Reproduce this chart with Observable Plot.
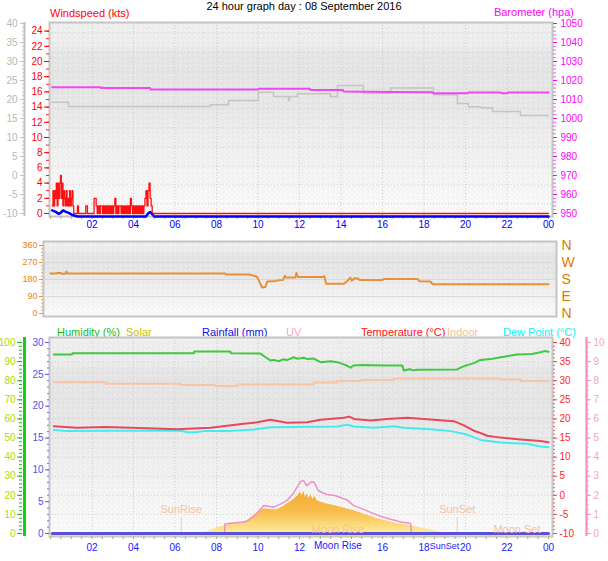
<!DOCTYPE html>
<html><head><meta charset="utf-8">
<script src="https://cdn.jsdelivr.net/npm/d3@7"></script>
<script src="https://cdn.jsdelivr.net/npm/@observablehq/plot@0.6"></script>
<style>
body{margin:0;background:#fff;}
#chart{position:relative;width:608px;height:561px;overflow:hidden;font-family:"Liberation Sans",Arial,sans-serif;background:#fff;}
#chart svg.layer{position:absolute;left:0;top:0;}
.lbl{position:absolute;white-space:nowrap;font-size:11px;line-height:11px;}
</style></head><body>
<svg width="0" height="0" style="position:absolute">
<defs>
<linearGradient id="bgGrad" x1="0" y1="0" x2="0" y2="1">
 <stop offset="0" stop-color="#efefef"/>
 <stop offset="0.12" stop-color="#ececec"/>
 <stop offset="0.17" stop-color="#e4e4e4"/>
 <stop offset="0.42" stop-color="#e6e6e6"/>
 <stop offset="0.6" stop-color="#eeeeee"/>
 <stop offset="1" stop-color="#fbfbfb"/>
</linearGradient>
<linearGradient id="solarGrad" gradientUnits="userSpaceOnUse" x1="0" y1="488" x2="0" y2="534">
 <stop offset="0" stop-color="#f4a630"/>
 <stop offset="0.55" stop-color="#f8c050"/>
 <stop offset="1" stop-color="#fff0a0"/>
</linearGradient>
<pattern id="dots" width="5" height="5" patternUnits="userSpaceOnUse">
 <rect x="0" y="0" width="1" height="1" fill="#ffffff"/>
 <rect x="3" y="1" width="1" height="1" fill="#d4d4d4"/>
 <rect x="1" y="3" width="1" height="1" fill="#d8d8d8"/>
 <rect x="4" y="4" width="1" height="1" fill="#ffffff"/>
</pattern>
</defs></svg>
<div id="chart">
 <div class="lbl" style="left:0;width:608px;text-align:center;top:1px;color:#000">24 hour graph day : 08 September 2016</div>
 <div class="lbl" style="left:50px;top:8px;color:#ff0000">Windspeed (kts)</div>
 <div class="lbl" style="right:34px;top:7px;color:#ff00ff">Barometer (hpa)</div>
 <div class="lbl" style="left:57px;top:327px;color:#10c010">Humidity (%)</div>
 <div class="lbl" style="left:126px;top:327px;color:#c8c000">Solar</div>
 <div class="lbl" style="left:202px;top:327px;color:#1010e0">Rainfall (mm)</div>
 <div class="lbl" style="left:286px;top:327px;color:#ffa0c8">UV</div>
 <div class="lbl" style="left:361px;top:327px;color:#ff1010">Temperature (°C)</div>
 <div class="lbl" style="left:447px;top:327px;color:#f8c0a0">Indoor</div>
 <div class="lbl" style="left:503px;top:327px;color:#10f0f0">Dew Point (°C)</div>
</div>
<script>
// ---------- data ----------
const hourTicks = [2,4,6,8,10,12,14,16,18,20,22,24];
const bottomHourTicks = [2,4,6,8,10,12,16,18,20,22,24];
const gridHours = [2,4,6,8,10,12,14,16,18,20,22];
const halfHours = d3.range(0, 24.01, 0.5);
const dirTicks = [0,90,180,270,360];
const compassLabels = ["N","E","S","W","N"];

// windspeed (kts) [hour, value]
const windGust = [[0.08,1],[0.12,3],[0.16,1],[0.2,3],[0.24,2],[0.28,4],[0.32,1],[0.36,4],[0.4,2],[0.44,4],[0.48,5],[0.52,2],[0.56,4],[0.6,1],[0.64,3],[0.68,2],[0.72,1],[0.76,3],[0.8,1],[0.84,2],[0.88,1],[0.92,3],[0.96,1],[1.0,2],[1.04,3],[1.08,1],[1.12,0],[1.3,1],[1.35,0],[1.7,1],[1.78,0],[2.1,2],[2.2,1],[2.25,0],[2.3,1],[2.35,0],[2.4,1],[2.5,0],[2.55,1],[2.6,0],[2.65,1],[2.7,0],[2.75,1],[2.8,0],[2.85,1],[2.9,0],[2.95,1],[3.0,0],[3.05,1],[3.1,2],[3.15,0],[3.2,1],[3.25,0],[3.3,1],[3.4,0],[3.45,1],[3.5,0],[3.55,1],[3.6,0],[3.65,1],[3.7,0],[3.75,1],[3.8,0],[3.85,2],[3.9,1],[3.95,0],[4.0,1],[4.05,0],[4.1,1],[4.15,0],[4.2,1],[4.25,0],[4.3,1],[4.35,0],[4.4,1],[4.45,0],[4.5,1],[4.55,2],[4.6,3],[4.65,1],[4.7,3],[4.75,4],[4.8,2],[4.85,1],[4.9,0],[24,0]];
const windAvg = [[0.08,0.8],[0.25,0.6],[0.4,0.35],[0.5,0.5],[0.6,0.8],[0.75,0.6],[0.9,0.45],[1.05,0.2],[1.3,0],[4.6,0],[4.7,0.4],[4.8,0.6],[4.9,0.3],[5.0,0],[24,0]];
// barometer (hpa)
const barometer = [[0.08,1016.5],[2.4,1016.5],[2.42,1016.1],[2.5,1016.3],[2.6,1016.0],[4.8,1016.0],[4.82,1015.3],[10.0,1015.3],[10.02,1015.6],[12.5,1015.6],[12.53,1015.0],[14.1,1015.0],[14.12,1014.2],[16.4,1014.0],[18.4,1013.8],[18.45,1013.3],[20.1,1013.3],[20.15,1013.7],[21.7,1013.7],[21.75,1013.3],[22.0,1013.3],[22.05,1013.7],[24,1013.7]];
const barometerGrey = [[0.08,1008.6],[0.87,1006.3],[7.71,1007.2],[8.58,1009.5],[10.02,1013.8],[10.75,1011.6],[11.47,1009.5],[11.52,1011.6],[11.9,1013.0],[13.49,1011.6],[13.83,1017.4],[15.08,1013.3],[16.39,1016.0],[18.46,1012.5],[19.61,1007.9],[20.14,1006.2],[20.72,1005.7],[21.3,1003.7],[22.65,1001.6],[24,1001.6]];
const baroGrid = [955,965,975,985,995,1005,1015,1025,1035,1045];

// wind direction (deg)
const windDir = [[0,212],[0.3,212],[0.32,215],[0.5,215],[0.52,210],[0.72,210],[0.76,222],[0.82,212],[8.43,212],[8.45,207],[9.6,206],[9.75,201],[9.95,195],[10.1,160],[10.2,138],[10.35,140],[10.45,170],[10.9,172],[10.95,176],[11.2,178],[11.3,200],[11.35,190],[11.8,190],[11.85,215],[11.92,193],[13.1,193],[13.2,198],[13.28,158],[14.15,158],[14.3,172],[14.45,190],[14.52,174],[14.65,186],[14.8,185],[14.9,178],[16.0,178],[16.05,182],[17.7,182],[17.78,171],[18.3,170],[18.42,155],[24,155]];

// humidity (%)
const humidity = [[0.16,93.7],[1.04,93.7],[1.06,94.4],[6.91,94.4],[6.93,95.3],[8.67,95.3],[8.69,94.4],[10.12,94.2],[10.4,92],[10.6,90.6],[10.76,90.9],[11.0,90.2],[11.2,91.2],[11.4,90.8],[11.73,92.3],[11.9,91.5],[12.2,92],[12.4,91.3],[12.69,91.6],[13.01,89.7],[13.5,90.2],[13.82,89.7],[14.2,88.3],[14.46,86.8],[14.6,88],[15.0,88.2],[16.06,88],[16.95,88],[17.03,85.3],[17.3,86],[17.5,85.4],[17.67,85.7],[19.6,85.9],[19.9,87.5],[20.4,89.2],[20.72,90.9],[21.2,91.3],[21.69,92.3],[22.49,93.7],[23.2,94],[23.61,94.9],[23.8,95.5],[24,95.2]];
// solar (W/m2)
const solar = [[7.1,0],[7.31,3],[7.6,12],[8.03,30],[8.4,40],[8.84,51],[9.2,58],[9.48,68],[9.8,94],[10.0,110],[10.28,129],[10.6,126],[10.92,124],[11.2,140],[11.4,155],[11.7,175],[11.9,195],[12.05,216],[12.12,195],[12.2,221],[12.28,188],[12.36,208],[12.45,183],[12.55,203],[12.65,178],[12.75,195],[12.85,172],[13.0,165],[13.3,155],[13.6,148],[14.0,138],[14.3,128],[14.6,120],[15.0,105],[15.3,94],[15.7,80],[16.1,68],[16.5,58],[16.9,50],[17.3,42],[17.7,33],[18.1,24],[18.5,15],[18.8,6],[19.0,0]];
// rainfall (mm)
const rainfall = [[0.08,0],[24,0]];
// UV index
const uv = [[8.39,0],[8.4,0.5],[8.8,0.55],[9.3,0.6],[9.5,0.65],[9.9,1.0],[10.27,1.47],[10.76,1.38],[11.1,1.55],[11.4,1.73],[11.7,2.1],[12.05,2.72],[12.2,2.77],[12.35,2.5],[12.55,2.69],[12.7,2.69],[12.9,2.25],[13.3,2.04],[13.7,1.99],[14.0,1.87],[14.3,1.75],[14.6,1.47],[15.0,1.3],[15.4,1.12],[15.9,0.9],[16.3,0.77],[16.9,0.6],[17.35,0.52],[17.4,0]];
// temperature (°C)
const temperature = [[0.16,18.1],[1.29,17.7],[2.65,17.9],[3.86,17.7],[6.1,17.3],[7.71,17.7],[8.51,18.2],[9.32,18.7],[9.96,19.1],[10.6,19.8],[11.4,19.0],[12.37,19.1],[13.01,19.8],[14.14,20.3],[14.4,20.6],[14.62,20.0],[15.42,19.6],[16.22,20.0],[17.19,20.3],[18.47,19.8],[19.44,19.4],[19.92,18.3],[20.4,16.9],[20.72,16.3],[21.04,15.6],[21.69,15.1],[22.65,14.6],[23.61,14.2],[24,13.9]];
const dewPoint = [[0.16,17.1],[0.8,16.8],[2.73,16.9],[6.27,16.9],[6.6,16.5],[7.07,16.6],[7.4,16.8],[8.51,16.8],[9.8,17.2],[10.6,17.8],[11.73,17.9],[13.82,18.0],[14.3,18.5],[14.62,18.0],[15.58,17.7],[16.55,18.1],[17.03,17.7],[18.31,17.3],[19.28,16.8],[20.08,15.9],[20.72,14.5],[21.69,13.8],[22.97,13.5],[23.61,12.8],[24,12.6]];
const indoor = [[0.16,29.6],[2.65,29.2],[6.27,28.9],[7.95,28.6],[8.99,29.0],[12.69,29.5],[13.82,29.9],[14.94,30.2],[16.55,30.6],[21.69,30.3],[22.65,29.9],[24,29.9]];
const humGrid = [10,20,30,40,50,60,70,80,90];

const sunEvents = [{label:"SunRise", hour:6.3},{label:"SunSet", hour:19.6}];
const moonEvents = [{label:"Moon Rise", hour:13.85},{label:"Moon Set", hour:22.48}];
const axisMoon = [{label:"Moon Rise", hour:13.85}];
const axisSun = [{label:"SunSet", hour:19.6}];

// ---------- drawing ----------
const FONT = '"Liberation Sans", Arial, sans-serif';
const X = {domain:[0,24], range:[50,548], axis:null, label:null};
const chart = document.getElementById("chart");
const P = {x: d => d[0], y: d => d[1]};
const blank = () => "";
const plain = d => String(d);
const fmtHour = h => String(h % 24).padStart(2, "0");
const dotted = {stroke:"#cfcfcf", strokeDasharray:"1,2"};
const bg = [Plot.frame({fill:"url(#bgGrad)"}), Plot.frame({fill:"url(#dots)", fillOpacity:0.6, stroke:"#c4c4c4", strokeWidth:2})];
function layer(o) {
  const svg = Plot.plot({width:608, height:561, style:{background:"transparent", fontFamily:FONT, fontSize:"10px", overflow:"visible"}, x:X, ...o});
  svg.classList.add("layer");
  chart.appendChild(svg);
}
const TOP = {marginTop:22, marginBottom:345, marginLeft:49, marginRight:56};
const MID = {marginTop:241, marginBottom:245, marginLeft:43, marginRight:52};
const BOT = {marginTop:337, marginBottom:25, marginLeft:49, marginRight:56};
const Y = (domain, range) => ({domain, range, axis:null, label:null});

// top panel: barometer scale (background, grid, lines)
layer({...TOP, y:Y([950,1050],[213,23]), marks:[
  ...bg,
  Plot.ruleX(gridHours, {x:d=>d, ...dotted}),
  Plot.ruleY(baroGrid, {y:d=>d, ...dotted}),
  Plot.axisY({anchor:"right", ticks:d3.range(950,1051,2), tickSize:3, tickFormat:blank, stroke:"#ff50ff"}),
  Plot.axisY({anchor:"right", ticks:d3.range(950,1051,10), tickSize:4, tickPadding:4, tickFormat:plain, stroke:"#ff00ff", fill:"#ff00ff"}),
  Plot.line(barometerGrey, {...P, curve:"step-after", stroke:"#c4c4c4", strokeWidth:1.5}),
  Plot.line(barometer, {...P, stroke:"#f048f0", strokeWidth:2})
]});
// top panel: windspeed scale
layer({...TOP, y:Y([0,25],[213,23]), marks:[
  Plot.axisX({ticks:halfHours, tickSize:3, tickFormat:blank, stroke:"#a8a8a8"}),
  Plot.axisX({ticks:hourTicks, tickSize:0, tickPadding:4, tickFormat:fmtHour, fill:"#0000ff"}),
  Plot.axisY({anchor:"left", ticks:d3.range(0,25,1), tickSize:3, tickFormat:blank, stroke:"#ff2020"}),
  Plot.axisY({anchor:"left", ticks:d3.range(0,25,2), tickSize:5, tickPadding:2, tickFormat:plain, stroke:"#ff0000", fill:"#ff0000"}),
  Plot.line(windGust, {...P, curve:"step-after", stroke:"#ff1010", strokeWidth:1.3}),
  Plot.line(windAvg, {...P, dy:3, stroke:"#0000ff", strokeWidth:2.5})
]});
// top panel: grey outer axis
layer({...TOP, y:Y([-10,40],[213,23]), marks:[
  Plot.ruleX([0], {dx:-26, stroke:"#c0c0c0", strokeWidth:2}),
  Plot.axisY({anchor:"left", dx:-25, ticks:d3.range(-10,41,1), tickSize:2, tickFormat:blank, stroke:"#c8c8c8"}),
  Plot.axisY({anchor:"left", dx:-25, ticks:d3.range(-10,41,5), tickSize:4, tickPadding:3, tickFormat:plain, stroke:"#c0c0c0", fill:"#b8b8b8"})
]});

// middle panel: wind direction
layer({...MID, y:Y([0,360],[313,245]), marks:[
  ...bg,
  Plot.ruleY([90,180,270], {y:d=>d, stroke:"#d8d8d8"}),
  Plot.axisY({anchor:"left", ticks:d3.range(0,361,18), tickSize:2, tickFormat:blank, stroke:"#f0a860"}),
  Plot.axisY({anchor:"left", ticks:dirTicks, tickSize:4, tickPadding:2, tickFormat:plain, stroke:"#f09030", fill:"#f08020", fontSize:9}),
  Plot.axisY({anchor:"right", ticks:dirTicks, tickSize:0, tickPadding:5, tickFormat:d => compassLabels[dirTicks.indexOf(d)], fill:"#e07800", fontSize:14}),
  Plot.line(windDir, {...P, stroke:"#e8903a", strokeWidth:2})
]});

// bottom panel: humidity scale (background, grid, axes)
layer({...BOT, y:Y([0,100],[533,342]), marks:[
  ...bg,
  Plot.ruleX(gridHours, {x:d=>d, ...dotted}),
  Plot.ruleY(humGrid, {y:d=>d, ...dotted}),
  Plot.axisX({ticks:halfHours, tickSize:3, tickFormat:blank, stroke:"#a8a8a8"}),
  Plot.ruleX([0], {dx:-26, stroke:"#10d010", strokeWidth:3}),
  Plot.axisY({anchor:"left", dx:-27, ticks:d3.range(0,101,2), tickSize:3, tickFormat:blank, stroke:"#10c010"}),
  Plot.axisY({anchor:"left", dx:-27, ticks:d3.range(0,101,10), tickSize:5, tickPadding:2, tickFormat:plain, stroke:"#10c010", fill:"#a8dc00"}),
  Plot.line(humidity, {...P, stroke:"#40c840", strokeWidth:2})
]});
// solar
layer({...BOT, y:Y([0,1000],[533,342]), marks:[
  Plot.areaY(solar, {...P, fill:"url(#solarGrad)"}),
  Plot.ruleY([0], {dy:2, stroke:"#f0e070", strokeWidth:1.5})
]});
// temperature
layer({...BOT, y:Y([-10,40],[533,342]), marks:[
  Plot.axisY({anchor:"right", ticks:d3.range(-10,41,1), tickSize:2, tickFormat:blank, stroke:"#f06060"}),
  Plot.axisY({anchor:"right", ticks:d3.range(-10,41,5), tickSize:4, tickPadding:3, tickFormat:plain, stroke:"#f04040", fill:"#ff2828"}),
  Plot.line(indoor, {...P, curve:"step-after", stroke:"#f8c4a8", strokeWidth:2}),
  Plot.line(dewPoint, {...P, stroke:"#40ecf0", strokeWidth:2}),
  Plot.line(temperature, {...P, stroke:"#e84858", strokeWidth:2})
]});
// UV
layer({...BOT, y:Y([0,10],[533,342]), marks:[
  Plot.ruleX([24], {dx:38, stroke:"#f088b8", strokeWidth:2}),
  Plot.axisY({anchor:"right", dx:34, ticks:d3.range(0,10.01,0.25), tickSize:2, tickFormat:blank, stroke:"#f8a8cc"}),
  Plot.axisY({anchor:"right", dx:34, ticks:d3.range(0,11,1), tickSize:4, tickPadding:3, tickFormat:plain, stroke:"#f890c0", fill:"#f8a0c8"}),
  Plot.line(uv, {...P, stroke:"#f090c8", strokeWidth:1.5})
]});
// rainfall + annotations
layer({...BOT, y:Y([0,30],[533,342]), marks:[
  Plot.axisY({anchor:"left", ticks:d3.range(0,31,1), tickSize:2, tickFormat:blank, stroke:"#7070f0"}),
  Plot.axisY({anchor:"left", ticks:d3.range(0,31,5), tickSize:4, tickPadding:2, tickFormat:plain, stroke:"#6060f0", fill:"#5050f0"}),
  Plot.ruleX(sunEvents, {x:"hour", insetTop:180, stroke:"#f8c8b0"}),
  Plot.line(rainfall, {...P, stroke:"#5a50e0", strokeWidth:3}),
  Plot.text(sunEvents, {x:"hour", text:"label", frameAnchor:"bottom", dy:-24, fill:"#f8c0a0", fontSize:11}),
  Plot.text(moonEvents, {x:"hour", text:"label", frameAnchor:"bottom", dy:-4, fill:"#f8c0a0", fontSize:11}),
  Plot.text(axisMoon, {x:"hour", text:"label", frameAnchor:"bottom", dy:12, fill:"#2020ff", fontSize:10}),
  Plot.text(axisSun, {x:"hour", text:"label", frameAnchor:"bottom", dy:12, dx:2, textAnchor:"end", fill:"#2020ff", fontSize:9}),
  Plot.axisX({ticks:bottomHourTicks, tickSize:0, tickPadding:7, tickFormat:fmtHour, fill:"#2020ff"})
]});
</script>
</body></html>
